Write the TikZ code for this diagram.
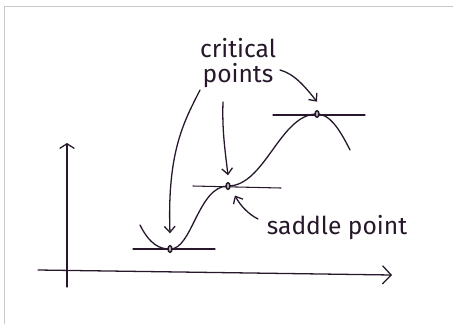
\documentclass[tikz,border=0pt]{standalone}
\usepackage{fontspec}
\setmainfont{Fira Sans}
\usetikzlibrary{arrows.meta, shapes.geometric}
\definecolor{ink}{RGB}{38,24,42}
\definecolor{paperedge}{RGB}{200,200,200}

\begin{document}
\begin{tikzpicture}[
		x=0.03cm, y=-0.03cm,
		pen/.style={draw=ink, line width=1.1pt, line cap=round},
		tangent/.style={pen, line width=0.9pt},
		axis/.style={pen, -{Straight Barb[length=2.6mm, width=5.5mm]}},
		note/.style={pen, -{Straight Barb[length=1.8mm, width=3.2mm]}},
		critpt/.style={ellipse, draw=ink, line width=1.2pt, fill=ink!35, inner sep=0pt,
			minimum width=1.2mm, minimum height=2mm},
		handtext/.style={text=ink, align=center, font=\fontsize{21}{22}\selectfont}
	]
		\useasboundingbox (0,0) rectangle (453,324);
		\draw[paperedge, line width=0.6pt] (4,324) |- (453,6);
		% axes
		\draw[axis] (38,270) -- (392,275);
		\draw[axis, -{Straight Barb[length=1.4mm, width=4.4mm]}] (67,287) -- (67,143);
		% tangents at the critical points
		\draw[tangent] (133,249) -- (215,249);
		\draw[tangent] (193,186) -- (281,188);
		\draw[tangent] (273,115) -- (365,115);
		% the function
		\coordinate (start) at (140,225);
		\coordinate (pmin) at (170,249);
		\coordinate (psad) at (228,186);
		\coordinate (pmax) at (317,114);
		\coordinate (fin) at (350,150);
		\draw[pen] (start) .. controls (150,245) and (160,249) .. (pmin)
			.. controls (192,250) and (198,186) .. (psad)
			.. controls (265,186) and (280,114) .. (pmax)
			.. controls (330,114) and (340,130) .. (fin);
		\node[critpt] (min) at (pmin) {};
		\node[critpt] (saddle) at (psad) {};
		\node[critpt] (max) at (pmax) {};
		% labels
		\node[handtext] (crit) at (238,63) {critical\\points};
		\node[handtext] (sadlabel) at (337,228) {saddle point};
		\coordinate (c1) at (200,90);
		\coordinate (c2) at (223,102);
		\coordinate (c3) at (280,70);
		\coordinate (s1) at (258,219);
		\draw[note] (c1) .. controls (185,120) and (167,150) .. ([yshift=0.35cm]min.north);
		\draw[note] (c2) .. controls (222,130) and (225,150) .. ([yshift=0.2cm]saddle.north);
		\draw[note] (c3) .. controls (295,74) and (306,88) .. ([yshift=0.25cm]max.north);
		\draw[note] (s1) .. controls (248,214) and (240,205) .. ([shift={(0.15cm,-0.2cm)}]saddle.south east);
\end{tikzpicture}
\end{document}
